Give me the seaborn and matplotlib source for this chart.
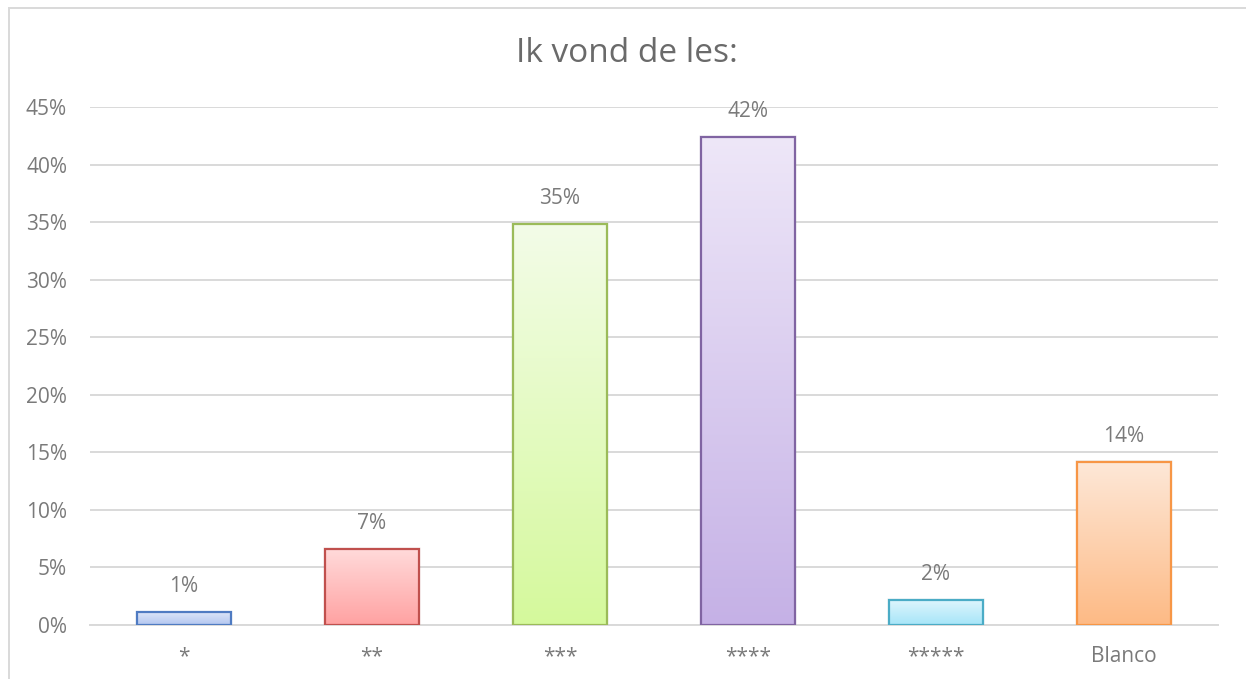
import numpy as np
import pandas as pd
import matplotlib
matplotlib.use("Agg")
import matplotlib.pyplot as plt
from matplotlib.colors import LinearSegmentedColormap
from matplotlib.patches import Rectangle
from matplotlib.ticker import FuncFormatter, MultipleLocator
import seaborn as sns

# Answers to "Ik vond de les:" (share of respondents, %)
categories = ["*", "**", "***", "****", "*****", "Blanco"]
shares = [1.1, 6.6, 34.8, 42.4, 2.2, 14.2]

edge_colors = ["#4F7BC2", "#C0504D", "#9BBB59", "#8064A2", "#4BACC6", "#F79646"]
top_colors = ["#DCE5F8", "#FFDADA", "#F3FCE8", "#EEE7F8", "#E0F6FD", "#FEE8D8"]
bottom_colors = ["#B3C6F0", "#FFA2A2", "#D5F99C", "#C5B1E6", "#A6E5F8", "#FDBA85"]

sns.set_theme(style="white")
plt.rcParams["font.family"] = ["Open Sans", "DejaVu Sans"]

text_grey = "#7A7A7A"
grid_grey = "#D9D9D9"
label_size = 15

fig = plt.figure(figsize=(12.46, 6.79), dpi=100)
ax = fig.add_axes([90 / 1246, 1 - 625 / 679, 1128 / 1246, (625 - 107) / 679])

df = pd.DataFrame({"cat": categories, "share": shares})
sns.barplot(data=df, x="cat", y="share", hue="cat", palette=edge_colors,
            legend=False, width=0.5, ax=ax, saturation=1)

for i, bar in enumerate(ax.patches):
    x0, w, h = bar.get_x(), bar.get_width(), bar.get_height()
    # soft drop shadow
    for k, a in enumerate([0.06, 0.04, 0.02]):
        off = 0.012 * (k + 1)
        ax.add_patch(Rectangle((x0 - off * 0.3, 0.0), w + off * 0.6, h + off * 4,
                               facecolor="black", edgecolor="none", alpha=a, zorder=1.5))
    cmap = LinearSegmentedColormap.from_list(f"g{i}", [top_colors[i], bottom_colors[i]])
    grad = np.linspace(0, 1, 256).reshape(-1, 1)
    ax.imshow(grad, cmap=cmap, aspect="auto", extent=[x0, x0 + w, 0, h],
              zorder=2, interpolation="bilinear")
    bar.set_facecolor("none")
    bar.set_edgecolor(edge_colors[i])
    bar.set_linewidth(1.6)
    bar.set_zorder(3)
    ax.text(x0 + w / 2, h + 1.3, f"{h:.0f}%", ha="center", va="bottom",
            fontsize=label_size, color=text_grey)

ax.set_xlim(-0.5, len(categories) - 0.5)
ax.set_ylim(0, 45)
ax.yaxis.set_major_locator(MultipleLocator(5))
ax.yaxis.set_major_formatter(FuncFormatter(lambda v, _: f"{v:.0f}%"))
ax.grid(axis="y", color=grid_grey, linewidth=1.4, zorder=0)
ax.set_axisbelow(True)
for side in ["left", "right", "top"]:
    ax.spines[side].set_visible(False)
ax.spines["bottom"].set_color(grid_grey)
ax.spines["bottom"].set_linewidth(1.4)
ax.tick_params(axis="y", length=0, pad=16.5, labelsize=label_size, labelcolor=text_grey)
ax.tick_params(axis="x", length=0, pad=15, labelsize=label_size, labelcolor=text_grey)
ax.set_xlabel("")
ax.set_ylabel("")

fig.text(627 / 1246, 1 - 54 / 679, "Ik vond de les:", ha="center", va="center",
         fontsize=24, color="#6A6A6A")

# chart area outline
fig.patches.append(Rectangle((9 / 1246, -0.1), 1.2, 1 - 8 / 679 + 0.1,
                             transform=fig.transFigure, facecolor="none",
                             edgecolor=grid_grey, linewidth=1.4, zorder=0))

fig.savefig("out.png", dpi=100)
